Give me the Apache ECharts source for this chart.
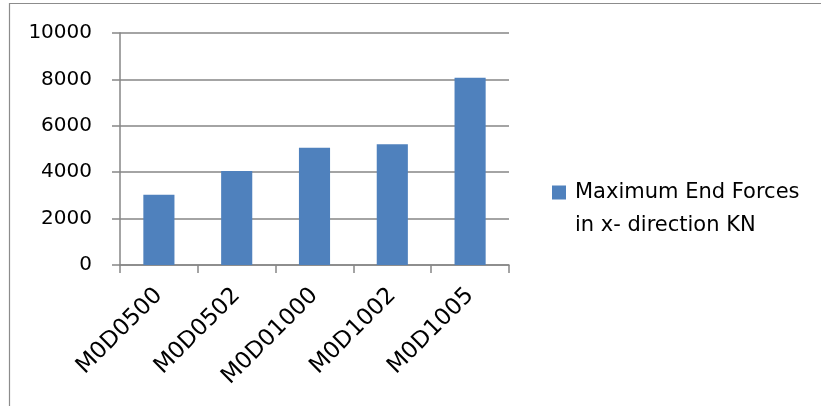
<!DOCTYPE html>
<html>
<head>
<meta charset="utf-8">
<style>
  html, body { margin: 0; padding: 0; background: #ffffff; }
  #chart { width: 821px; height: 406px; }
</style>
<script src="https://cdn.jsdelivr.net/npm/echarts@6/dist/echarts.min.js"></script>
</head>
<body>
<div id="chart"></div>
<script>
// Model names along the category axis
const categories = ['M0D0500', 'M0D0502', 'M0D01000', 'M0D1002', 'M0D1005'];
// Maximum end force in the x direction for each model (kN)
const endForces = [3030, 4050, 5050, 5200, 8070];
const seriesName = 'Maximum End Forces in x- direction KN';
const legendLines = ['Maximum End Forces', 'in x- direction KN'];
// Value-axis tick labels
const yTicks = [0, 2000, 4000, 6000, 8000, 10000];

const FONT = 'DejaVu Sans';
const GRID_GREY = '#868686';

const chart = echarts.init(document.getElementById('chart'), null, { renderer: 'canvas' });

chart.setOption({
  animation: false,
  backgroundColor: '#ffffff',
  graphic: [{
    type: 'rect',
    silent: true,
    shape: { x: 9.5, y: 3.5, width: 840, height: 440 },
    style: { fill: 'none', stroke: '#8c8c8c', lineWidth: 1.2 }
  }],
  grid: { left: 120, right: 312, top: 33, bottom: 141, containLabel: false },
  legend: {
    orient: 'vertical',
    left: 552,
    top: 143,
    padding: 0,
    itemWidth: 14,
    itemHeight: 14,
    icon: 'rect',
    // a blank leading line keeps the swatch level with the first text line
    formatter: function () { return ' \n' + legendLines.join('\n'); },
    textStyle: {
      fontFamily: FONT, fontSize: 21, color: '#000000',
      lineHeight: 33, padding: [0, 0, 0, 4]
    },
    data: [seriesName]
  },
  xAxis: {
    type: 'category',
    data: categories,
    axisLine: { lineStyle: { color: GRID_GREY, width: 1.5 } },
    axisTick: { show: true, alignWithLabel: false, length: 8, lineStyle: { color: GRID_GREY, width: 1.5 } },
    axisLabel: {
      rotate: 45, margin: 27, interval: 0,
      fontFamily: FONT, fontSize: 23, color: '#000000'
    }
  },
  yAxis: {
    type: 'value',
    min: yTicks[0],
    max: yTicks[yTicks.length - 1],
    interval: yTicks[1] - yTicks[0],
    axisLine: { show: true, lineStyle: { color: GRID_GREY, width: 1.5 } },
    axisTick: { show: true, length: 8, lineStyle: { color: GRID_GREY, width: 1.5 } },
    splitLine: { show: true, lineStyle: { color: GRID_GREY, width: 1.5 } },
    axisLabel: {
      margin: 28, fontFamily: FONT, fontSize: 20, color: '#000000',
      formatter: function (v) { return String(v); }
    }
  },
  series: [{
    name: seriesName,
    type: 'bar',
    data: endForces,
    barWidth: '40%',
    itemStyle: { color: '#4F81BD' }
  }]
});
</script>
</body>
</html>
